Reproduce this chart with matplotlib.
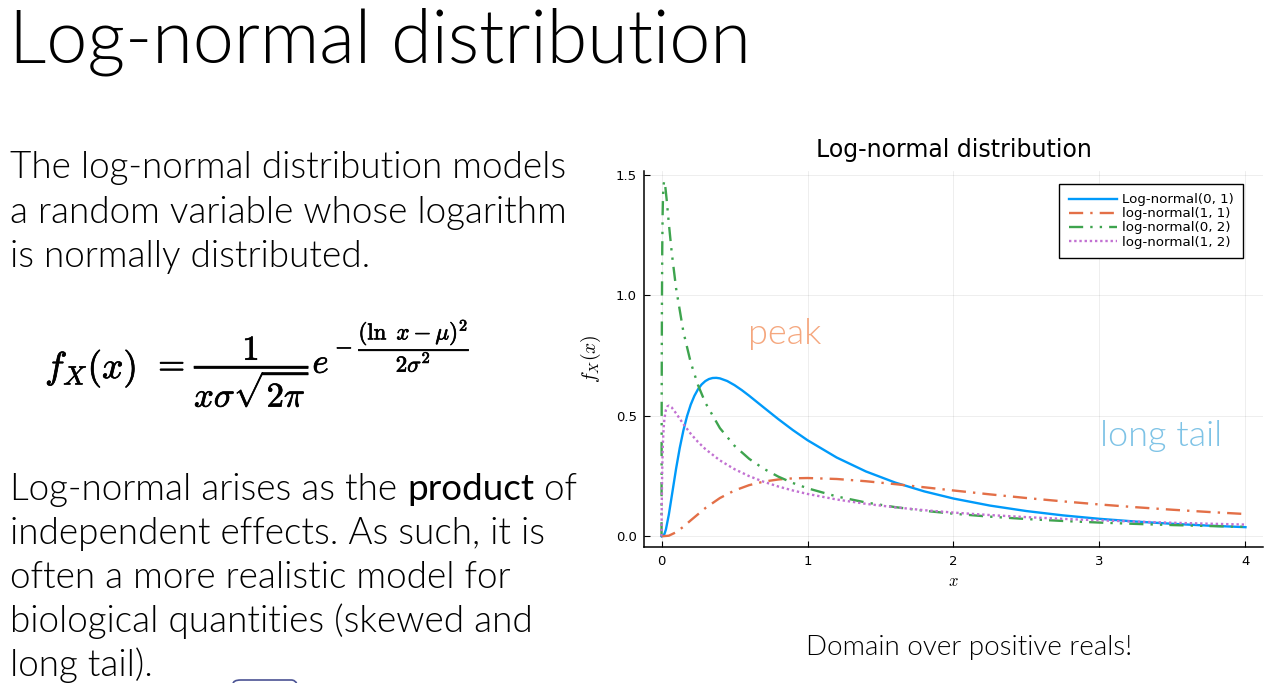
import os
import matplotlib
matplotlib.use("Agg")
import matplotlib.pyplot as plt
import matplotlib.patheffects as pe
from matplotlib import font_manager as fm
from matplotlib.patches import FancyBboxPatch

W, H = 1282, 683

# lecturas de la figura (x, f_X(x)) para cada curva
x_lognorm01 = [0, 0.02, 0.03, 0.05, 0.075, 0.1, 0.125, 0.15, 0.175, 0.2, 0.225, 0.25, 0.275, 0.3,
               0.325, 0.35, 0.375, 0.4, 0.45, 0.5, 0.55, 0.6, 0.7, 0.8, 0.9, 1.0, 1.2, 1.4, 1.6,
               1.8, 2.0, 2.25, 2.5, 2.75, 3.0, 3.25, 3.5, 3.75, 4.0]
y_lognorm01 = [0, 0.0095, 0.0284, 0.0898, 0.1857, 0.2816, 0.3673, 0.4399, 0.4990, 0.5464, 0.5828,
               0.6104, 0.6305, 0.6442, 0.6528, 0.6570, 0.6577, 0.6555, 0.6445, 0.6274, 0.6067,
               0.5836, 0.5348, 0.4864, 0.4408, 0.3989, 0.3270, 0.2693, 0.2233, 0.1865, 0.1569,
               0.1276, 0.1049, 0.0870, 0.0727, 0.0613, 0.0520, 0.0444, 0.0381]

x_lognorm11 = [0, 0.05, 0.1, 0.15, 0.2, 0.3, 0.4, 0.5, 0.6, 0.7, 0.8, 0.9, 1.0, 1.2, 1.4, 1.6, 1.8,
               2.0, 2.25, 2.5, 2.75, 3.0, 3.25, 3.5, 3.75, 4.0]
y_lognorm11 = [0, 0.0027, 0.0171, 0.0400, 0.0663, 0.1172, 0.1590, 0.1903, 0.2124, 0.2271, 0.2360,
               0.2407, 0.2420, 0.2380, 0.2287, 0.2167, 0.2036, 0.1903, 0.1742, 0.1590, 0.1451, 0.1323,
               0.1208, 0.1104, 0.1010, 0.0926]

x_lognorm02 = [0, 0.0002, 0.0005, 0.001, 0.002, 0.003, 0.005, 0.0075, 0.01, 0.0135, 0.0183, 0.025,
               0.035, 0.05, 0.07, 0.1, 0.15, 0.2, 0.25, 0.3, 0.4, 0.5, 0.6, 0.7, 0.8, 0.9, 1.0, 1.2,
               1.4, 1.6, 1.8, 2.0, 2.25, 2.5, 2.75, 3.0, 3.25, 3.5, 3.75, 4.0]
y_lognorm02 = [0, 0.115, 0.2916, 0.512, 0.7985, 0.9794, 1.1944, 1.3338, 1.4079, 1.4566, 1.4738,
               1.4561, 1.3986, 1.2994, 1.1772, 1.0281, 0.8480, 0.7215, 0.6275, 0.5547, 0.4490,
               0.3757, 0.3218, 0.2805, 0.2478, 0.2213, 0.1995, 0.1655, 0.1405, 0.1213, 0.1061,
               0.0939, 0.0817, 0.0718, 0.0638, 0.0572, 0.0516, 0.0468, 0.0428, 0.0392]

x_lognorm12 = [0, 0.0005, 0.001, 0.002, 0.003, 0.005, 0.0075, 0.01, 0.015, 0.02, 0.03, 0.04, 0.05,
               0.07, 0.1, 0.15, 0.2, 0.25, 0.3, 0.4, 0.5, 0.6, 0.7, 0.8, 0.9, 1.0, 1.2, 1.4, 1.6,
               1.8, 2.0, 2.25, 2.5, 2.75, 3.0, 3.25, 3.5, 3.75, 4.0]
y_lognorm12 = [0, 0.0385, 0.0804, 0.149, 0.2022, 0.2802, 0.3466, 0.3930, 0.4529, 0.4886, 0.5250,
               0.5391, 0.5422, 0.5346, 0.5102, 0.4657, 0.4258, 0.3915, 0.3623, 0.3151, 0.2788,
               0.2499, 0.2264, 0.2068, 0.1902, 0.1760, 0.1529, 0.1349, 0.1204, 0.1085, 0.0986,
               0.0883, 0.0797, 0.0725, 0.0664, 0.0611, 0.0565, 0.0525, 0.0489]

series_labels = ["Log-normal(0, 1)", "log-normal(1, 1)", "log-normal(0, 2)", "log-normal(1, 2)"]
x_ticks = [0, 1, 2, 3, 4]
y_ticks = [0.0, 0.5, 1.0, 1.5]

para1 = ["The log-normal distribution models",
         "a random variable whose logarithm",
         "is normally distributed."]
para2 = ["independent effects. As such, it is",
         "often a more realistic model for",
         "biological quantities (skewed and",
         "long tail)."]


def px(x, y):
    # pixeles de la diapositiva -> fraccion de figura
    return x / W, 1 - y / H


def lato(stem, size, weight):
    # busca el archivo exacto (p.ej. Lato-Light) para no caer en Thin/Hairline
    for f in fm.fontManager.ttflist:
        if os.path.splitext(os.path.basename(f.fname))[0] == stem:
            return fm.FontProperties(fname=f.fname, size=size)
    return fm.FontProperties(family=["Lato", "DejaVu Sans"], weight=weight, size=size)


fig = plt.figure(figsize=(W / 100, H / 100), dpi=100)
fig.patch.set_facecolor("white")

# titulo de la diapositiva
fig.text(*px(9, 62), "Log-normal distribution", fontproperties=lato("Lato-Light", 53, "light"),
         va="baseline", ha="left")

# texto de la izquierda
body = lato("Lato-Light", 26.6, "light")
for i, line in enumerate(para1):
    fig.text(*px(10, 178 + 44.5 * i), line, fontproperties=body, va="baseline")

# formula, por piezas
bold = [pe.withStroke(linewidth=0.5, foreground="black")]
fig.text(*px(45, 378), r"$f_X(x)$", fontsize=27, va="baseline", math_fontfamily="cm", path_effects=bold)
fig.text(*px(152, 375), r"$=$", fontsize=25, va="baseline", math_fontfamily="cm", path_effects=bold)
fig.text(*px(194, 373), r"$\dfrac{1}{x\sigma\sqrt{2\pi}}e$", fontsize=25, va="baseline",
         math_fontfamily="cm", path_effects=bold)
fig.text(*px(335, 346), r"$-\;\dfrac{(\ln\ x-\mu)^2}{2\sigma^2}$", fontsize=16.5, va="center",
         math_fontfamily="cm", path_effects=bold)

# primera linea del segundo parrafo, con "product" en peso normal
renderer = fig.canvas.get_renderer()
xcur = 10
for part, fp in [("Log-normal arises as the ", body), ("product", lato("Lato-Regular", 26.6, "normal")),
                 (" of", body)]:
    t = fig.text(*px(xcur, 500), part, fontproperties=fp, va="baseline")
    xcur += t.get_window_extent(renderer).width

for i, line in enumerate(para2):
    fig.text(*px(10, 544 + 44 * i), line, fontproperties=body, va="baseline")

fig.text(*px(969, 655), "Domain over positive reals!", fontproperties=lato("Lato-Light", 20, "light"),
         ha="center", va="baseline")

# borde de boton cortado abajo
btn = FancyBboxPatch(px(233, 700), 66 / W, 20 / H, boxstyle="round,pad=0,rounding_size=0.006",
                     transform=fig.transFigure, fc="none", ec="#4b5394", lw=1.2)
fig.patches.append(btn)

# grafico
ax = fig.add_axes([644 / W, 1 - 547 / H, 619 / W, 376.5 / H])
ax.plot(x_lognorm01, y_lognorm01, color="#009AFA", lw=1.7, label=series_labels[0])
ax.plot(x_lognorm11, y_lognorm11, color="#E36F47", lw=1.7, ls=(0, (6, 3, 1, 3)), label=series_labels[1])
ax.plot(x_lognorm02, y_lognorm02, color="#3EA44E", lw=1.7, ls=(0, (6, 3, 1, 3, 1, 3)), label=series_labels[2])
ax.plot(x_lognorm12, y_lognorm12, color="#C271D2", lw=1.7, ls=(0, (1, 1.2)), label=series_labels[3])

ax.set_xlim(-0.12, 4.12)
ax.set_ylim(-0.0442, 1.518)
ax.set_xticks(x_ticks)
ax.set_yticks(y_ticks)
ax.set_xticklabels([str(v) for v in x_ticks])
ax.set_yticklabels(["%.1f" % v for v in y_ticks])
ax.tick_params(direction="in", length=4, width=0.8, labelsize=9.5, colors="black")
ax.tick_params(axis="x", pad=6)
ax.tick_params(axis="y", pad=5)
ax.grid(True, color="black", alpha=0.08, lw=0.6)
for side in ["top", "right"]:
    ax.spines[side].set_visible(False)
for side in ["left", "bottom"]:
    ax.spines[side].set_linewidth(1.1)

ax.set_title("Log-normal distribution", fontsize=17, pad=10)
ax.set_xlabel(r"$x$", fontsize=12, labelpad=3, math_fontfamily="cm")
ax.set_ylabel(r"$f_X(x)$", fontsize=14, labelpad=9, math_fontfamily="cm")

leg = ax.legend(loc="upper right", bbox_to_anchor=(0.9677, 0.9641), borderaxespad=0,
                fontsize=9.6, handlelength=3.6, handletextpad=0.4, labelspacing=0.08,
                borderpad=0.7, fancybox=False, framealpha=1)
leg.get_frame().set_edgecolor("black")
leg.get_frame().set_linewidth(1.0)

ax.text(0.59, 0.797, "peak", transform=ax.transData, fontproperties=lato("Lato-Light", 26, "light"),
        color="#F5A77E", va="baseline")
ax.text(3.005, 0.373, "long tail", transform=ax.transData, fontproperties=lato("Lato-Light", 26, "light"),
        color="#7EC3E6", va="baseline")

fig.savefig("out.png", dpi=100)
